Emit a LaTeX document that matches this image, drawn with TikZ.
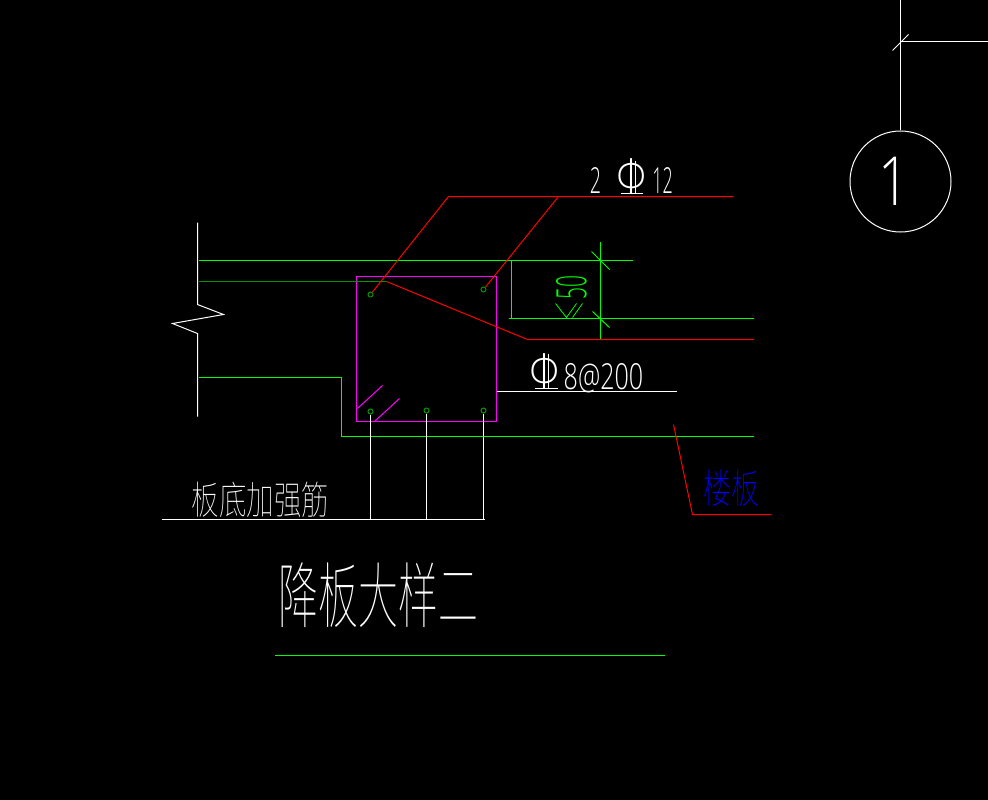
\documentclass[tikz,border=0pt]{standalone}
\usepackage{fontspec}
\setmainfont{DejaVu Sans ExtraLight}
\newfontfamily\cjk{Noto Sans CJK SC Thin}
\newfontfamily\digits{Open Sans Light}
\definecolor{cad_green}{RGB}{0,255,0}
\definecolor{cad_dark}{RGB}{0,150,0}
\definecolor{cad_red}{RGB}{255,0,0}
\definecolor{cad_pink}{RGB}{255,0,255}
\definecolor{cad_blue}{RGB}{0,0,255}
\tikzset{
  white_line/.style={draw=white, line width=1bp},
  green_line/.style={draw=cad_green, line width=1bp},
  dark_line/.style={draw=cad_dark, line width=1bp},
  red_line/.style={draw=cad_red, line width=1bp},
  pink_line/.style={draw=cad_pink, line width=1bp},
  bar_dot/.style={draw=cad_dark, circle, inner sep=0pt, minimum size=5bp, line width=1bp},
  cad_text/.style={inner sep=0pt, transform shape, text=white}
}
\begin{document}
\begin{tikzpicture}[x=1bp, y=-1bp, shift={(.5,.5)}]
  \fill [black] (-.5, -.5) rectangle (987.5, 799.5);
  \useasboundingbox (-.5, -.5) rectangle (987.5, 799.5);

  % axis mark
  \node [draw=white, line width=1bp, circle, inner sep=0pt, minimum size=101bp] (Axis_circle) at (900, 181) {};
  \node [cad_text, font=\digits\fontsize{68}{68}\selectfont, xscale=.8] (Axis_text) at (893, 181) {1};
  \coordinate (Axis_top) at (900, 0);
  \coordinate (Axis_cross) at (900, 41);
  \coordinate (Axis_right) at (988, 41);
  \draw [white_line] (Axis_top) -- (Axis_circle);
  \draw [white_line] (Axis_cross) -- (Axis_right);
  \draw [white_line] (892, 50) -- (908, 34);

  % wall
  \draw [white_line] (197, 222) -- (197, 304) -- (223, 314) -- (172, 323) -- (197, 333) -- (197, 416);

  % bars in the beam
  \node [bar_dot] (Top_left_bar) at (370, 294) {};
  \node [bar_dot] (Top_right_bar) at (483, 289) {};
  \node [bar_dot] (Bottom_left_bar) at (370, 411) {};
  \node [bar_dot] (Bottom_mid_bar) at (426, 410) {};
  \node [bar_dot] (Bottom_right_bar) at (483, 410) {};

  % stirrup
  \draw [pink_line] (356, 276) rectangle (496, 421);
  \draw [pink_line] (357, 408) -- (382, 385);
  \draw [pink_line] (374, 421) -- (399, 398);

  % slab lines
  \draw [green_line] (198, 260) -- (632, 260);
  \draw [dark_line] (198, 281) -- (386, 281);
  \draw [red_line] (386, 281) -- (527, 339) -- (753, 339);
  \draw [green_line] (511, 260) -- (511, 318);
  \draw [green_line] (508, 318) -- (753, 318);
  \draw [green_line] (198, 377) -- (341, 377) -- (341, 436) -- (753, 436);

  % dimension
  \draw [green_line] (600, 241) -- (600, 338);
  \draw [green_line] (591, 251) -- (609, 269);
  \draw [green_line] (592, 311) -- (609, 327);
  \node [cad_text, text=cad_green, font=\digits\fontsize{42}{42}\selectfont, rotate=90, xscale=.5] (Dim_text) at (571, 287) {50};
  \draw [green_line, line width=.8bp] (555, 303) -- (566, 317) -- (576, 303);
  \draw [green_line, line width=.8bp] (572, 317) -- (582, 303);

  % top bars label
  \coordinate (Top_leader_a) at (448, 196);
  \coordinate (Top_leader_b) at (558, 196);
  \coordinate (Top_leader_end) at (733, 196);
  \draw [red_line] (Top_left_bar) -- (Top_leader_a) -- (Top_leader_end);
  \draw [red_line] (Top_right_bar) -- (Top_leader_b);
  \node [cad_text, font=\digits\fontsize{36}{36}\selectfont, xscale=.55] (Top_count) at (595, 180) {2};
  \node [cad_text, font=\fontsize{48}{48}\selectfont, xscale=.85] (Top_phi) at (632, 176) {Φ};
  \draw [white_line] (635, 160) -- (635, 193);
  \draw [white_line] (620, 193) -- (642, 193);
  \node [cad_text, font=\digits\fontsize{36}{36}\selectfont, xscale=.5] (Top_size) at (662, 180) {12};

  % stirrup label
  \coordinate (Stirrup_end) at (676, 391);
  \draw [white_line] (496, 391) -- (Stirrup_end);
  \node [cad_text, font=\fontsize{48}{48}\selectfont, xscale=.85] (Stirrup_phi) at (545, 371) {Φ};
  \draw [white_line] (548, 353) -- (548, 388);
  \draw [white_line] (534, 388) -- (557, 388);
  \node [cad_text, font=\digits\fontsize{36}{36}\selectfont, xscale=.7] (Stirrup_text) at (603, 378) {8@200};

  % bottom bars label
  \coordinate (Base_left) at (161, 519);
  \coordinate (Base_right) at (484, 519);
  \draw [white_line] (Base_left) -- (Base_right);
  \draw [white_line] (Bottom_left_bar) -- (Bottom_left_bar |- Base_left);
  \draw [white_line] (Bottom_mid_bar) -- (Bottom_mid_bar |- Base_left);
  \draw [white_line] (Bottom_right_bar) -- (Bottom_right_bar |- Base_left);
  \node [cad_text, font=\cjk\fontsize{29}{29}\selectfont, xscale=.95, yscale=1.35] (Base_text) at (260, 499) {板底加强筋};

  % slab label
  \node [cad_text, text=cad_blue, font=\cjk\fontsize{28}{28}\selectfont, yscale=1.45] (Slab_text) at (731, 488) {楼板};
  \draw [red_line] (673, 424) -- (692, 514) -- (771, 514);

  % title
  \node [cad_text, font=\cjk\fontsize{40}{40}\selectfont, yscale=1.8] (Title_text) at (378, 595) {降板大样二};
  \draw [green_line] (274, 655) -- (664, 655);
\end{tikzpicture}
\end{document}
